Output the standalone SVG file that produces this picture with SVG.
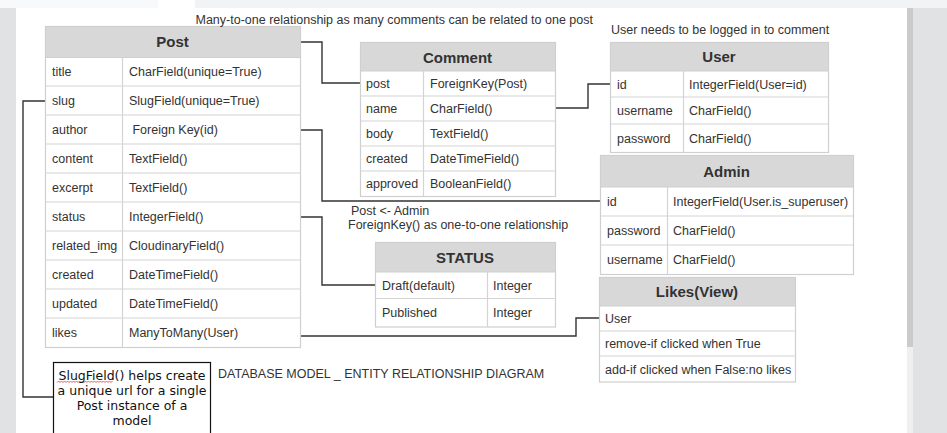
<svg xmlns="http://www.w3.org/2000/svg" width="947" height="433" viewBox="0 0 947 433">
<style>
text{font-family:"Liberation Sans",Arial,sans-serif;fill:#333}
.t{font-size:12.5px}
.h{font-size:15px;font-weight:bold;text-anchor:middle}
.lbl{font-size:12.5px}
.hd{fill:#d8d8d8;stroke:#cfcfcf;stroke-width:1}
.bx{fill:#fff;stroke:#cfcfcf;stroke-width:1.2}
.ln{stroke:#d4d4d4;stroke-width:1.2;fill:none}
.cn{fill:none;stroke:#333;stroke-width:1.4}
.note{font-family:"DejaVu Sans",Verdana,sans-serif;font-size:12.5px;text-anchor:middle;fill:#111}
</style>
<rect width="947" height="433" fill="#fff"/>
<g id="chrome">
<rect x="0" y="0" width="158" height="8" fill="#f8f9fa"/>
<rect x="195" y="0" width="752" height="8" fill="#f1f3f4"/>
<rect x="0" y="8" width="16" height="425" fill="#e1e2e4"/>
<rect x="907" y="8" width="6" height="425" fill="#efefef"/>
<rect x="907" y="8" width="6" height="339" fill="#cbcbcb"/>
<rect x="913" y="8" width="34" height="425" fill="#e1e2e4"/>
</g>
<g id="connectors">
<polyline class="cn" points="300,42 322,42 322,83 360,83"/>
<polyline class="cn" points="300,130 322,130 322,201 600,201"/>
<polyline class="cn" points="555,108 588,108 588,84 610,84"/>
<polyline class="cn" points="300,217 322,217 322,285 375,285"/>
<polyline class="cn" points="300,336 576,336 576,318 599,318" stroke="#555"/>
<polyline class="cn" points="45,101 23,101 23,397 53,397"/>
</g>
<g id="post">
<rect class="bx" x="45.5" y="26.5" width="255" height="321"/>
<rect class="hd" x="45.5" y="26.5" width="255" height="31"/>
<path class="ln" d="M45.5 86H300.5M45.5 115H300.5M45.5 144H300.5M45.5 173H300.5M45.5 202H300.5M45.5 231H300.5M45.5 260H300.5M45.5 289H300.5M45.5 318H300.5M122.5 57.5V347.5"/>
<text class="h" x="172.5" y="47">Post</text>
<text class="t" x="52" y="76">title</text><text class="t" x="129" y="76">CharField(unique=True)</text>
<text class="t" x="52" y="105">slug</text><text class="t" x="129" y="105">SlugField(unique=True)</text>
<text class="t" x="52" y="134">author</text><text class="t" x="129" y="134" xml:space="preserve"> Foreign Key(id)</text>
<text class="t" x="52" y="163">content</text><text class="t" x="129" y="163">TextField()</text>
<text class="t" x="52" y="192">excerpt</text><text class="t" x="129" y="192">TextField()</text>
<text class="t" x="52" y="221">status</text><text class="t" x="129" y="221">IntegerField()</text>
<text class="t" x="52" y="250">related_img</text><text class="t" x="129" y="250">CloudinaryField()</text>
<text class="t" x="52" y="279">created</text><text class="t" x="129" y="279">DateTimeField()</text>
<text class="t" x="52" y="308">updated</text><text class="t" x="129" y="308">DateTimeField()</text>
<text class="t" x="52" y="337">likes</text><text class="t" x="129" y="337">ManyToMany(User)</text>
</g>
<g id="comment">
<rect class="bx" x="360.5" y="42.5" width="195" height="154"/>
<rect class="hd" x="360.5" y="42.5" width="195" height="28.5"/>
<path class="ln" d="M360.5 96H555.5M360.5 121H555.5M360.5 146H555.5M360.5 171H555.5M423.5 71V196.5"/>
<text class="h" x="457.5" y="62.5">Comment</text>
<text class="t" x="366" y="88">post</text><text class="t" x="430" y="88">ForeignKey(Post)</text>
<text class="t" x="366" y="113">name</text><text class="t" x="430" y="113">CharField()</text>
<text class="t" x="366" y="138">body</text><text class="t" x="430" y="138">TextField()</text>
<text class="t" x="366" y="163">created</text><text class="t" x="430" y="163">DateTimeField()</text>
<text class="t" x="366" y="188">approved</text><text class="t" x="430" y="188">BooleanField()</text>
</g>
<g id="user">
<rect class="bx" x="610.5" y="42.5" width="218" height="110"/>
<rect class="hd" x="610.5" y="42.5" width="218" height="28.5"/>
<path class="ln" d="M610.5 97H828.5M610.5 124H828.5M683.5 71V152.5"/>
<text class="h" x="719" y="62">User</text>
<text class="t" x="617" y="88.5">id</text><text class="t" x="689" y="88.5">IntegerField(User=id)</text>
<text class="t" x="617" y="115">username</text><text class="t" x="689" y="115">CharField()</text>
<text class="t" x="617" y="142.5">password</text><text class="t" x="689" y="142.5">CharField()</text>
</g>
<g id="admin">
<rect class="bx" x="600.5" y="155.5" width="253" height="119"/>
<rect class="hd" x="600.5" y="155.5" width="253" height="31.5"/>
<path class="ln" d="M600.5 216H853.5M600.5 245H853.5M667.5 187V274.5"/>
<text class="h" x="726.5" y="176.5">Admin</text>
<text class="t" x="607" y="206">id</text><text class="t" x="673" y="206">IntegerField(User.is_superuser)</text>
<text class="t" x="607" y="235">password</text><text class="t" x="673" y="235">CharField()</text>
<text class="t" x="607" y="264">username</text><text class="t" x="673" y="264">CharField()</text>
</g>
<g id="status">
<rect class="bx" x="375.5" y="242.5" width="180" height="84.5"/>
<rect class="hd" x="375.5" y="242.5" width="180" height="29.5"/>
<path class="ln" d="M375.5 298.5H555.5M487.5 272V327"/>
<text class="h" x="465" y="262.5">STATUS</text>
<text class="t" x="382" y="289.5">Draft(default)</text><text class="t" x="493" y="289.5">Integer</text>
<text class="t" x="382" y="317">Published</text><text class="t" x="493" y="317">Integer</text>
</g>
<g id="likes">
<rect class="bx" x="599.5" y="277.5" width="196" height="104.5"/>
<rect class="hd" x="599.5" y="277.5" width="196" height="28.5"/>
<path class="ln" d="M599.5 331H795.5M599.5 356H795.5"/>
<text class="h" x="697" y="296.5">Likes(View)</text>
<text class="t" x="605" y="322.5">User</text>
<text class="t" x="605" y="347.5">remove-if clicked when True</text>
<text class="t" x="605" y="373.5">add-if clicked when False:no likes</text>
</g>
<g id="note">
<rect x="53.5" y="362.5" width="157" height="80" fill="#fff" stroke="#111" stroke-width="1.2"/>
<path d="M57 382.5l1.5-1.5 1.5 1.5 1.5-1.5 1.5 1.5 1.5-1.5 1.5 1.5 1.5-1.5 1.5 1.5 1.5-1.5 1.5 1.5 1.5-1.5 1.5 1.5 1.5-1.5 1.5 1.5 1.5-1.5 1.5 1.5 1.5-1.5 1.5 1.5 1.5-1.5 1.5 1.5 1.5-1.5 1.5 1.5 1.5-1.5 1.5 1.5 1.5-1.5 1.5 1.5 1.5-1.5 1.5 1.5 1.5-1.5 1.5 1.5 1.5-1.5 1.5 1.5 1.5-1.5 1.5 1.5 1.5-1.5 1.5 1.5 1.5-1.5" fill="none" stroke="#e05050" stroke-width="0.9"/>
<text class="note" x="132" y="379.5">SlugField() helps create</text>
<text class="note" x="132" y="394.5">a unique url for a single</text>
<text class="note" x="132" y="409.5">Post instance of a</text>
<text class="note" x="132" y="424.5">model</text>
</g>
<g id="labels">
<text class="lbl" x="195.5" y="23.5">Many-to-one relationship as many comments can be related to one post</text>
<text class="lbl" x="611" y="33.5">User needs to be logged in to comment</text>
<text class="lbl" x="351" y="214.5">Post &lt;- Admin</text>
<text class="lbl" x="348" y="228.5">ForeignKey() as one-to-one relationship</text>
<text class="lbl" x="218" y="378">DATABASE MODEL _ ENTITY RELATIONSHIP DIAGRAM</text>
</g>
</svg>
